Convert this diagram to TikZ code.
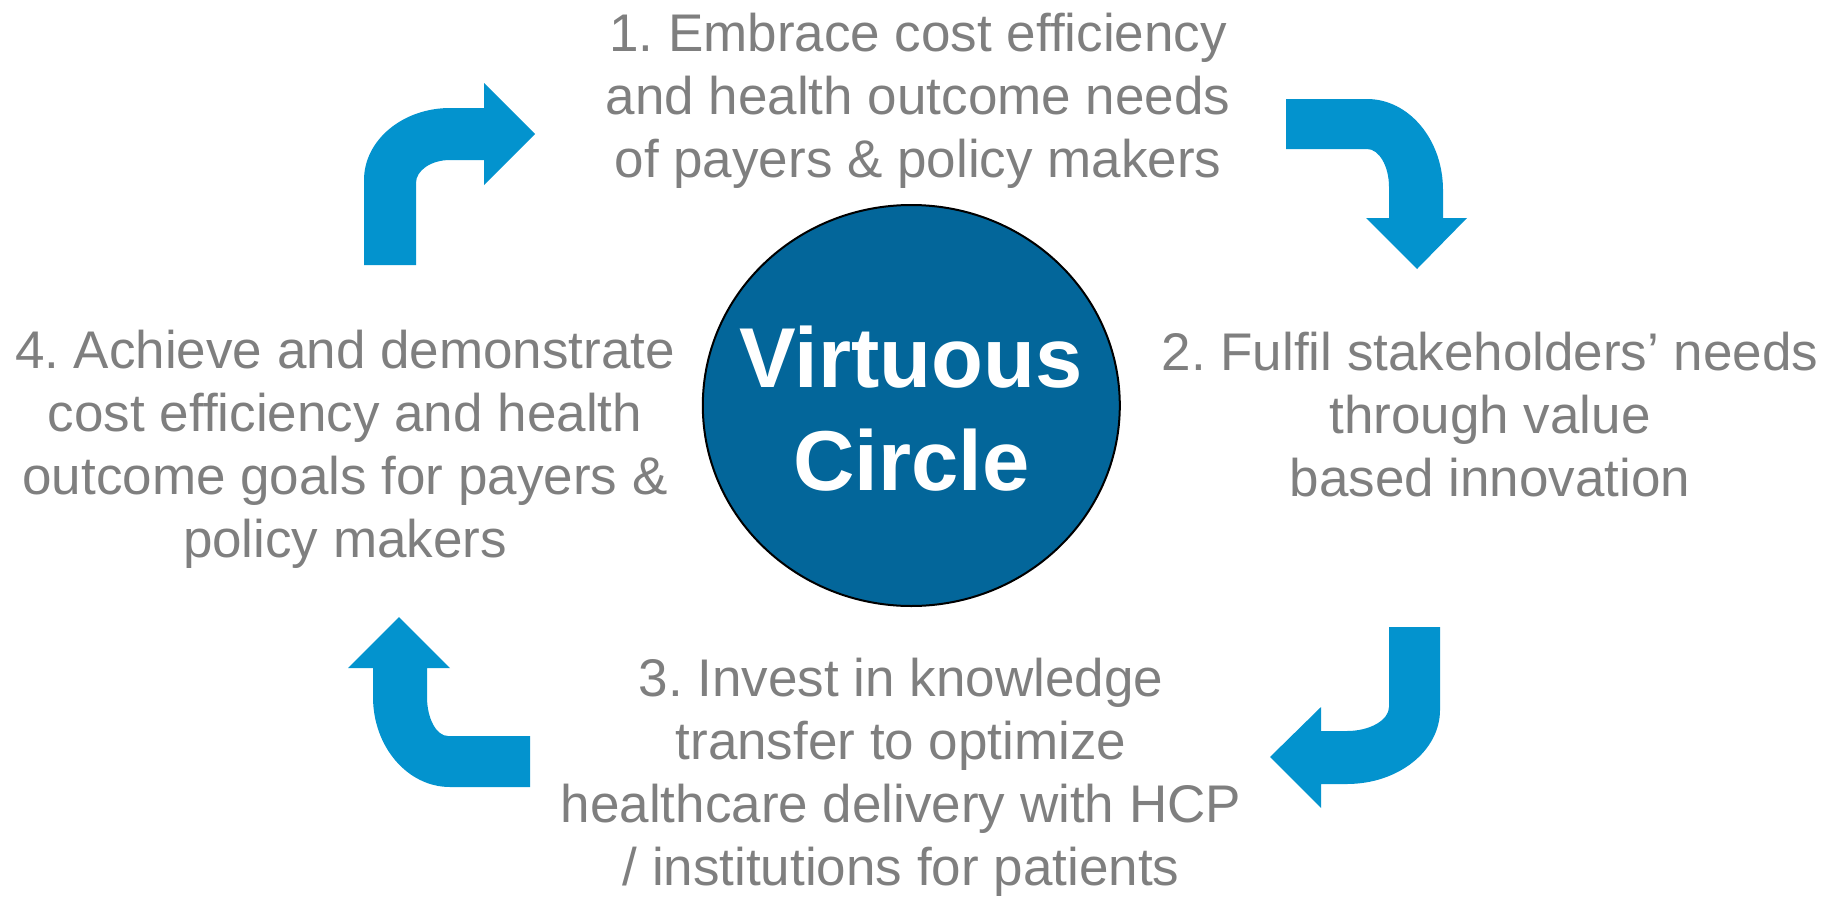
\documentclass[tikz,border=0pt]{standalone}
\usepackage{fontspec}
\setmainfont{Liberation Sans}
\frenchspacing
\usetikzlibrary{shapes.geometric}
\definecolor{txtgray}{RGB}{127,127,127}
\definecolor{arrowblue}{RGB}{3,147,206}
\definecolor{circblue}{RGB}{3,102,154}
\tikzset{
  steptext/.style={text=txtgray, align=center, anchor=base, inner sep=0pt,
    font=\fontsize{53}{62.7}\selectfont},
  bentarrow/.style={fill=arrowblue, draw=none},
  hub/.style={ellipse, draw=black, line width=2pt, fill=circblue,
    inner sep=0pt, minimum width=417pt, minimum height=401pt},
  hubtext/.style={text=white, align=center, anchor=base, inner sep=0pt,
    font=\fontsize{85}{103}\selectfont\bfseries}
}
\begin{document}
\begin{tikzpicture}[x=1pt,y=-1pt]
\useasboundingbox (0,0) rectangle (1837,897);

% centre
\node[hub] (vc) at (911.3,405.5) {};
\node[hubtext] (vct) at (911.3,490) {Virtuous\\Circle};

% step texts (anchored at the baseline of the last line)
\node[steptext] (s1) at (918,177) {1. Embrace cost efficiency\\and health outcome needs\\of payers \& policy makers};
\node[steptext] (s2) at (1490,496) {2. Fulfil stakeholders’ needs\\through value\\based innovation};
\node[steptext] (s3) at (901,885) {3. Invest in knowledge\\transfer to optimize\\healthcare delivery with HCP\\/ institutions for patients};
\node[steptext] (s4) at (345,557) {4. Achieve and demonstrate\\cost efficiency and health\\outcome goals for payers \&\\policy makers};

% arrow 4 -> 1 (top left)
\fill[bentarrow] (364,265) -- (364,180)
  .. controls (364,140.3) and (402.5,108) .. (450,108)
  -- (484,108) -- (484,83) -- (535,134) -- (484,185) -- (484,160) -- (450,160)
  .. controls (431.2,160) and (416,170.3) .. (416,183)
  -- (416,265) -- cycle;

% arrow 1 -> 2 (top right)
\fill[bentarrow] (1286,99) -- (1367,99)
  .. controls (1409,99) and (1443,139.8) .. (1443,190)
  -- (1443,218) -- (1467,218) -- (1417,269) -- (1366,218) -- (1389,218) -- (1389,187)
  .. controls (1389,166) and (1379,149) .. (1367,149)
  -- (1286,149) -- cycle;

% arrow 2 -> 3 (bottom right)
\fill[bentarrow] (1440,627) -- (1440,710)
  .. controls (1440,751) and (1398,784) .. (1347,784)
  -- (1321,784) -- (1321,808) -- (1270,757) -- (1321,707) -- (1321,731) -- (1347,731)
  .. controls (1370,731) and (1389,720) .. (1389,707)
  -- (1389,627) -- cycle;

% arrow 3 -> 4 (bottom left)
\fill[bentarrow] (530,787) -- (450,787)
  .. controls (407.5,787) and (373,746.7) .. (373,697)
  -- (373,668) -- (348,668) -- (399,617) -- (450,668) -- (427,668) -- (427,697)
  .. controls (427,718.5) and (436.4,736) .. (448,736)
  -- (530,736) -- cycle;
\end{tikzpicture}
\end{document}
